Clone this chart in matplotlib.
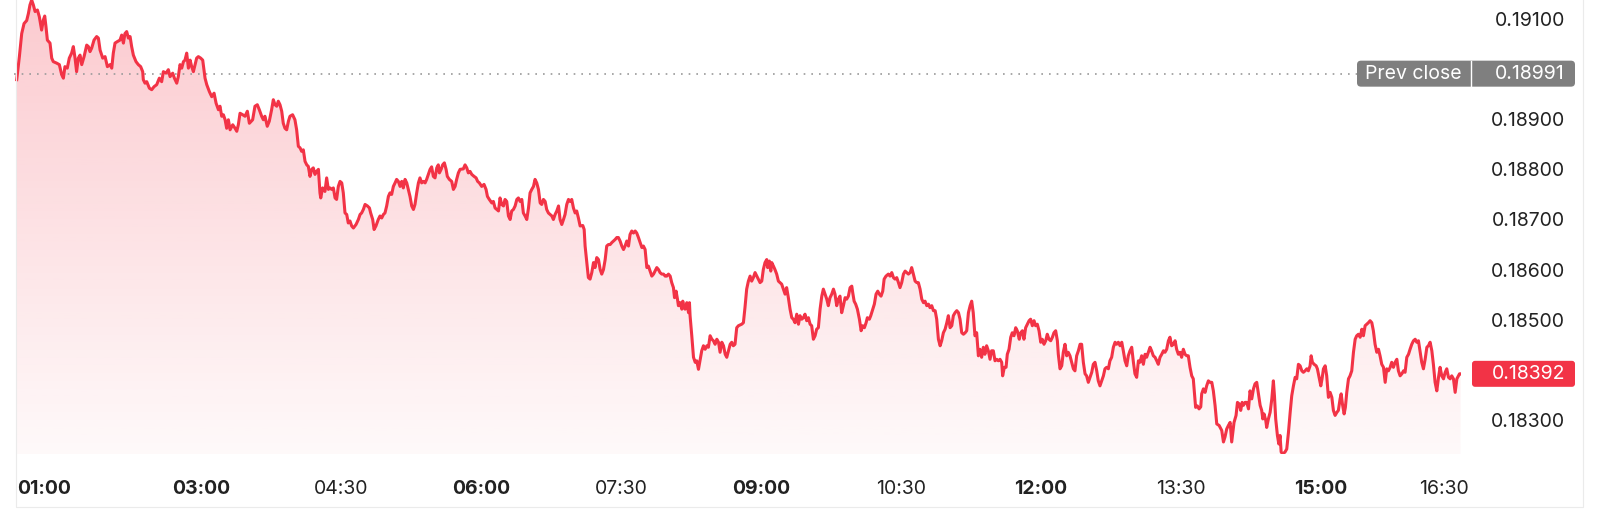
import numpy as np
import matplotlib.pyplot as plt
from matplotlib.colors import to_rgb
from matplotlib.patches import FancyBboxPatch, Rectangle
from matplotlib.transforms import IdentityTransform, ScaledTranslation

plt.rcParams['font.family'] = ['Inter', 'DejaVu Sans']

# time of each price point, minutes after midnight
minute_of_day = [
    61.5, 63.2, 64.7, 66.2, 67.9, 69.0, 70.0, 71.1, 72.2, 73.3,
    74.8, 76.0, 77.5, 78.6, 79.5, 80.3, 81.2, 82.9, 84.0, 85.0,
    87.2, 88.9, 90.4, 91.5, 92.5, 94.0, 95.3, 96.8, 97.9, 99.0,
    100.0, 101.1, 102.2, 103.3, 104.8, 106.5, 107.6, 108.6, 109.7, 111.2,
    112.9, 114.0, 115.1, 116.8, 118.3, 119.8, 121.5, 122.6, 123.6, 124.7,
    126.2, 127.9, 129.0, 130.1, 131.1, 132.2, 133.3, 134.4, 135.4, 136.5,
    138.2, 139.7, 141.2, 142.5, 142.9, 144.0, 145.1, 146.8, 148.3, 149.8,
    151.5, 153.2, 154.7, 155.8, 157.5, 159.0, 160.1, 161.8, 162.9, 164.4,
    165.4, 166.5, 167.6, 168.7, 169.7, 170.8, 171.9, 173.0, 174.0, 175.1,
    176.2, 177.2, 178.3, 179.8, 181.1, 182.6, 183.7, 185.4, 186.9, 188.4,
    189.7, 191.2, 192.2, 193.3, 194.4, 195.5, 196.5, 197.6, 198.7, 200.4,
    201.9, 203.0, 204.0, 205.1, 206.8, 208.3, 209.8, 211.1,
    213.2, 214.7, 216.2, 217.5, 219.0, 220.1, 221.1, 222.6, 223.9, 225.4,
    226.5, 227.6, 228.7, 229.7, 230.8, 231.9, 232.9, 234.0, 235.1, 236.2,
    237.2, 238.9, 240.4, 241.5, 242.6, 243.7, 244.7, 245.8, 246.9, 248.0,
    249.0, 250.1, 251.2, 252.2, 253.3, 254.4, 255.5, 256.5, 257.0, 258.2,
    259.7, 260.8, 261.9, 263.0, 264.0, 265.1, 266.2, 267.2, 268.3, 269.4,
    270.5, 271.5, 272.6, 273.7, 274.7, 275.8, 276.9, 278.0, 279.7, 281.2,
    282.3, 283.3, 284.4, 285.5, 287.0, 288.3, 289.1, 290.4, 291.3, 292.5,
    294.0, 295.1, 296.2, 297.3, 298.3, 299.4, 300.5, 301.5, 302.6, 303.7,
    304.8, 305.8, 306.9, 308.0, 309.1, 310.1, 311.2, 312.3, 313.3, 314.4,
    315.5, 316.6, 317.6, 318.7, 319.8, 320.8, 321.9, 323.0, 324.1, 325.1,
    326.2, 327.3, 328.3, 329.4, 330.5, 331.6, 332.6, 333.3, 334.4, 335.4,
    336.5, 337.6, 338.4, 339.7, 341.2, 342.3, 343.4, 344.4, 345.5, 346.6,
    348.7, 349.8, 350.9, 351.9, 353.0, 354.1, 355.6, 356.9, 357.9, 359.0,
    360.5, 362.0, 363.3, 364.2, 365.4,
    367.0, 368.0, 369.1, 370.2, 371.3, 372.3, 373.4, 374.5, 375.5, 376.6,
    377.7, 378.8, 379.8, 380.9, 382.0, 383.1, 384.1, 385.2, 386.3, 387.3,
    388.4, 389.5, 390.6, 391.6, 392.7, 393.8, 394.8, 395.9, 397.0, 398.1,
    399.1, 400.2, 401.3, 402.3, 403.4, 404.5, 405.6, 406.6, 407.7, 408.8,
    409.9, 410.9, 412.0, 413.1, 414.1, 415.2, 416.3, 417.4, 418.4, 419.5,
    420.6, 421.6, 422.7, 423.8, 425.5, 426.4, 427.0, 428.1, 429.1, 430.2,
    431.3, 432.4, 433.4, 434.5, 435.6, 436.7, 437.7, 438.8, 439.9, 440.9,
    442.0, 443.1, 444.2, 445.2, 446.3, 447.4, 448.4, 449.5, 450.6, 451.7,
    452.7, 453.8, 454.9, 455.9, 457.0, 458.1, 459.2, 460.2, 461.3, 462.4,
    463.5, 464.5, 465.6, 466.7, 467.7, 468.8, 469.9, 471.0, 472.0, 473.1,
    474.2, 475.2, 476.3, 477.4, 478.5, 479.5, 480.6, 481.7, 482.7, 483.8,
    484.5, 485.5, 486.4, 487.0, 488.1, 489.2, 489.8, 490.7, 491.3, 492.4,
    493.5, 494.1, 494.5, 495.6, 496.7, 497.8, 498.8, 499.9, 501.0, 502.0,
    503.1, 504.2, 505.3, 506.3, 507.4, 508.5, 509.5, 510.6, 511.7, 512.8,
    513.8, 514.9, 516.0, 517.1, 518.1, 519.2, 520.3,
    521.3, 522.3, 523.4, 524.5, 525.6, 527.7, 528.8, 529.8, 530.9, 532.0,
    533.1, 534.1, 535.2, 536.3, 537.4, 538.4, 539.5, 540.6, 541.6, 542.7,
    543.8, 544.4, 545.5, 546.4, 547.0, 548.1, 549.1, 550.2, 551.3, 552.4,
    553.4, 554.5, 555.6, 556.6, 557.7, 558.8, 559.9, 560.9, 562.0, 563.1,
    564.2, 565.2, 566.3, 567.4, 568.4, 569.5, 570.6, 571.7, 572.7, 573.8,
    574.9, 575.9, 577.0, 578.1, 579.2, 580.2, 581.3, 582.4, 583.4, 584.5,
    585.6, 586.7, 587.7, 588.8, 589.9, 590.9, 592.0, 593.1, 594.2, 595.2,
    596.3, 597.4, 598.5, 599.1, 600.0, 601.0, 602.1, 603.4, 604.5, 605.5,
    606.6, 607.7, 608.5, 609.8, 610.7, 612.0, 613.0, 614.1, 615.2, 616.2,
    617.3, 618.4, 619.3, 620.5, 622.0, 623.1, 624.2, 625.3, 626.3, 627.4,
    628.5, 629.5, 630.6, 631.7, 632.8, 633.8, 634.9, 636.0, 637.0, 638.1,
    639.2, 640.3, 641.3, 642.4, 643.5, 644.6, 645.6, 646.7, 647.8, 648.8,
    649.9, 651.0, 652.1, 653.1, 654.2, 655.3, 656.3, 657.4, 658.5, 659.6,
    660.6, 661.7, 662.8, 663.8, 664.9, 666.0, 667.1, 668.1, 669.2, 670.3,
    671.4, 672.4, 673.5, 674.6,
    675.6, 676.6, 677.7, 678.8, 679.9, 680.9, 682.0, 683.1, 684.1, 685.2,
    686.3, 687.4, 688.4, 689.5, 690.6, 691.7, 692.7, 693.8, 694.9, 695.5,
    696.6, 697.7, 698.5, 699.6, 700.7, 701.7, 702.8, 703.9, 704.9, 706.2,
    707.1, 708.2, 709.2, 710.3, 711.4, 712.5, 713.5, 714.6, 715.7, 716.7,
    717.8, 718.9, 720.0, 721.0, 722.1, 723.2, 724.2, 725.3, 726.4, 727.5,
    728.5, 729.6, 730.7, 731.3, 732.4, 733.5, 734.5, 735.6, 736.7, 737.7,
    738.8, 739.9, 741.0, 742.0, 743.1, 744.2, 745.3, 746.3, 747.4, 748.5,
    749.5, 750.6, 751.7, 752.8, 753.8, 754.9, 756.0, 757.0, 758.1, 759.2,
    760.3, 761.3, 762.4, 763.5, 764.5, 765.6, 766.7, 767.8, 768.8, 769.9,
    771.0, 772.1, 773.1, 774.2, 775.3, 776.3, 777.4, 778.5, 779.6, 780.6,
    781.7, 782.8, 783.8, 784.9, 786.0, 787.1, 788.1, 789.2, 790.3, 791.3,
    792.4, 793.5, 794.6, 795.6, 796.7, 797.8, 798.9, 799.9, 801.0, 802.1,
    803.1, 804.2, 805.3, 806.4, 807.4, 808.5, 809.6, 810.6, 811.7, 812.8,
    813.9, 814.9, 816.0, 817.1, 818.1, 818.8, 819.6, 820.7, 821.8, 822.9,
    823.5, 824.6, 825.7, 826.7, 827.8, 828.9,
    830.0, 831.0, 832.1, 833.2, 834.7, 836.4, 837.5, 838.5, 839.6, 840.7,
    841.8, 842.8, 843.5, 844.3, 845.6, 846.5, 847.6, 848.6, 849.5, 850.3,
    851.4, 852.5, 853.6, 854.6, 855.7, 856.8, 857.8, 858.9, 860.0, 861.1,
    862.1, 862.8, 863.6, 864.7, 865.3, 866.4, 867.5, 868.6, 869.6, 870.3,
    871.1, 872.2, 873.1, 873.9, 874.6, 875.6, 877.1, 878.2, 879.3, 880.4,
    881.4, 882.5, 883.6, 884.6, 885.7, 886.8, 887.9, 888.9, 890.0, 891.1,
    892.1, 893.2, 893.9, 894.7, 895.8, 897.1, 897.9, 899.0, 900.1, 900.9,
    901.8, 902.9, 903.9, 905.0, 906.1, 907.2, 908.2, 909.3, 910.4, 911.4,
    912.5, 913.2, 914.0, 915.1, 915.9, 916.8, 917.9, 918.9, 920.0, 921.1,
    922.2, 923.2, 924.3, 925.4, 926.5, 927.5, 928.6, 929.7, 930.7, 931.8,
    932.9, 933.9, 935.0, 936.1, 937.2, 938.2, 939.3, 940.4, 941.5, 942.5,
    943.6, 944.7, 945.7, 946.8, 947.9, 949.0, 950.0, 951.1, 952.2, 953.3,
    954.3, 955.4, 956.5, 957.5, 958.6, 959.7, 960.8, 961.8, 962.9, 964.0,
    965.0, 966.1, 967.2, 968.3, 969.3, 970.4, 971.5, 972.5, 973.6, 974.7,
    975.8, 976.8, 977.9, 979.0, 980.1, 981.1, 982.2, 983.3, 984.3, 985.4,
    986.5, 987.6, 988.6, 989.3, 990.0,
]

# price in units of 0.00001
price_e5 = [
    18979, 19025, 19071, 19091, 19097, 19111, 19128, 19138, 19128, 19115,
    19118, 19105, 19078, 19098, 19106, 19085, 19058, 19052, 19022, 19015,
    19012, 19009, 18989, 18982, 19005, 19002, 19022, 19032, 19045, 19022,
    18995, 19022, 19028, 19009, 19025, 19048, 19045, 19035, 19042, 19058,
    19065, 19062, 19038, 19022, 19025, 19005, 19009, 19002, 19032, 19052,
    19055, 19058, 19068, 19052, 19071, 19075, 19062, 19065, 19045, 19028,
    19015, 19009, 19005, 18995, 18979, 18972, 18975, 18962, 18959, 18965,
    18969, 18982, 18975, 18995, 18992, 18999, 18985, 18992, 18982, 18972,
    18985, 19009, 19002, 19015, 19018, 19032, 19002, 19018, 19005, 18995,
    19009, 19022, 19025, 19022, 19018, 18982, 18969, 18955, 18945, 18952,
    18932, 18919, 18926, 18906, 18909, 18899, 18882, 18899, 18879, 18889,
    18882, 18876, 18889, 18912, 18909, 18906, 18916, 18892,
    18899, 18926, 18929, 18919, 18906, 18899, 18906, 18886, 18896, 18919,
    18939, 18929, 18926, 18936, 18929, 18916, 18892, 18882, 18879, 18896,
    18906, 18909, 18899, 18879, 18846, 18843, 18836, 18839, 18816, 18809,
    18806, 18786, 18800, 18803, 18790, 18796, 18800, 18753, 18743, 18763,
    18756, 18783, 18760, 18763, 18760, 18763, 18743, 18740, 18766, 18776,
    18773, 18753, 18713, 18710, 18693, 18697, 18687, 18683, 18690, 18700,
    18710, 18713, 18720, 18730, 18727, 18723, 18713, 18700, 18680, 18687,
    18700, 18707, 18703, 18710, 18713, 18727, 18746, 18753, 18750, 18766,
    18773, 18780, 18776, 18766, 18776, 18763, 18780, 18773, 18760, 18746,
    18727, 18720, 18730, 18753, 18773, 18783, 18773, 18776, 18773, 18780,
    18790, 18800, 18805, 18786, 18783, 18803, 18809, 18793, 18800, 18809,
    18813, 18800, 18786, 18780, 18776, 18760, 18766, 18780, 18793, 18800,
    18801, 18809, 18803, 18793, 18796, 18790, 18786, 18783, 18776, 18773,
    18766, 18770, 18760, 18746, 18740,
    18733, 18736, 18723, 18720, 18717, 18743, 18730, 18727, 18740, 18736,
    18707, 18700, 18717, 18720, 18727, 18740, 18743, 18736, 18740, 18713,
    18707, 18700, 18723, 18753, 18760, 18766, 18780, 18773, 18760, 18733,
    18730, 18740, 18736, 18720, 18713, 18710, 18707, 18700, 18710, 18717,
    18727, 18700, 18690, 18700, 18710, 18730, 18740, 18736, 18740, 18723,
    18713, 18717, 18703, 18687, 18688, 18680, 18647, 18614, 18584, 18581,
    18594, 18614, 18604, 18624, 18620, 18600, 18591, 18600, 18620, 18647,
    18650, 18650, 18654, 18657, 18660, 18664, 18664, 18657, 18647, 18640,
    18647, 18657, 18647, 18670, 18677, 18673, 18677, 18673, 18664, 18654,
    18644, 18647, 18640, 18604, 18607, 18597, 18587, 18591, 18597, 18604,
    18600, 18594, 18591, 18591, 18587, 18587, 18591, 18587, 18574, 18564,
    18544, 18557, 18541, 18528, 18534, 18521, 18537, 18524, 18521, 18534,
    18514, 18534, 18508, 18468, 18425, 18415, 18418, 18401, 18421, 18438,
    18448, 18441, 18448, 18445, 18468, 18461, 18458, 18451, 18461, 18455,
    18435, 18455, 18448, 18431, 18425, 18438, 18451,
    18455, 18448, 18451, 18484, 18488, 18491, 18494, 18524, 18561, 18577,
    18587, 18577, 18584, 18594, 18587, 18581, 18574, 18577, 18600, 18614,
    18620, 18604, 18617, 18597, 18614, 18607, 18600, 18591, 18577, 18574,
    18571, 18561, 18551, 18564, 18544, 18521, 18504, 18501, 18494, 18511,
    18491, 18508, 18501, 18504, 18511, 18498, 18504, 18491, 18488, 18461,
    18468, 18481, 18484, 18521, 18547, 18561, 18551, 18541, 18528, 18544,
    18551, 18561, 18551, 18528, 18541, 18547, 18514, 18528, 18544, 18541,
    18547, 18564, 18567, 18554, 18537, 18531, 18521, 18501, 18478, 18488,
    18484, 18494, 18504, 18501, 18508, 18521, 18531, 18551, 18557, 18551,
    18547, 18557, 18581, 18587, 18591, 18587, 18594, 18584, 18581, 18584,
    18574, 18564, 18574, 18591, 18597, 18594, 18591, 18594, 18604, 18591,
    18577, 18574, 18574, 18561, 18541, 18534, 18537, 18528, 18531, 18524,
    18528, 18518, 18518, 18501, 18461, 18448, 18458, 18474, 18481, 18494,
    18508, 18484, 18488, 18508, 18514, 18518, 18514, 18501, 18474, 18471,
    18474, 18478, 18514, 18528,
    18537, 18514, 18468, 18474, 18428, 18441, 18425, 18445, 18431, 18448,
    18438, 18421, 18438, 18438, 18418, 18421, 18418, 18421, 18415, 18388,
    18405, 18405, 18431, 18441, 18465, 18474, 18468, 18484, 18478, 18461,
    18474, 18478, 18461, 18484, 18491, 18498, 18501, 18488, 18498, 18488,
    18491, 18478, 18455, 18461, 18451, 18458, 18471, 18461, 18458, 18465,
    18474, 18478, 18458, 18431, 18402, 18408, 18435, 18451, 18428, 18435,
    18428, 18415, 18402, 18398, 18428, 18438, 18451, 18451, 18415, 18392,
    18388, 18375, 18385, 18395, 18411, 18415, 18398, 18378, 18368, 18378,
    18388, 18402, 18405, 18402, 18418, 18425, 18445, 18455, 18451, 18455,
    18448, 18455, 18438, 18418, 18408, 18428, 18438, 18445, 18415, 18392,
    18385, 18418, 18415, 18428, 18411, 18431, 18425, 18435, 18445, 18438,
    18428, 18425, 18418, 18411, 18425, 18431, 18438, 18435, 18441, 18458,
    18465, 18448, 18451, 18458, 18441, 18431, 18435, 18425, 18441, 18431,
    18428, 18428, 18405, 18388, 18382, 18355, 18325, 18328, 18322, 18326,
    18352, 18362, 18355, 18368, 18378, 18375,
    18375, 18358, 18329, 18292, 18289, 18279, 18256, 18266, 18282, 18289,
    18295, 18256, 18275, 18295, 18309, 18335, 18332, 18319, 18335, 18329,
    18335, 18335, 18322, 18358, 18342, 18362, 18372, 18375, 18352, 18329,
    18319, 18302, 18312, 18299, 18285, 18302, 18315, 18342, 18378, 18348,
    18302, 18269, 18252, 18269, 18236, 18232, 18236, 18242, 18275, 18315,
    18348, 18368, 18385, 18382, 18411, 18408, 18398, 18395, 18398, 18402,
    18398, 18408, 18428, 18415, 18411, 18408, 18402, 18385, 18368, 18382,
    18402, 18408, 18388, 18345, 18355, 18345, 18319, 18309, 18315, 18319,
    18342, 18352, 18332, 18312, 18325, 18355, 18382, 18388, 18398, 18435,
    18461, 18468, 18471, 18465, 18481, 18468, 18488, 18491, 18494, 18498,
    18494, 18478, 18451, 18435, 18441, 18428, 18411, 18405, 18375, 18402,
    18398, 18405, 18415, 18405, 18415, 18421, 18398, 18388, 18392, 18398,
    18395, 18425, 18431, 18441, 18451, 18458, 18461, 18455, 18458, 18435,
    18415, 18402, 18421, 18445, 18448, 18455, 18438, 18411, 18375, 18358,
    18385, 18405, 18388, 18382, 18395, 18402, 18385, 18382, 18388, 18382,
    18355, 18382, 18388, 18392, 18392,
]

prev_close = 0.18991
last_price = 0.18392

y_ticks = [0.18300, 0.18500, 0.18600, 0.18700, 0.18800, 0.18900, 0.19100]
x_ticks = [60, 180, 270, 360, 450, 540, 630, 720, 810, 900, 990]
x_labels = ['01:00', '03:00', '04:30', '06:00', '07:30', '09:00',
            '10:30', '12:00', '13:30', '15:00', '16:30']
bold_labels = ['01:00', '03:00', '06:00', '09:00', '12:00', '15:00']

t = np.array(minute_of_day)
price = np.array(price_e5) / 1e5

W, H = 1600, 522
red = '#f23346'
text_col = '#222222'

fig = plt.figure(figsize=(W / 100, H / 100), dpi=100)
ax_l, ax_r, ax_b, ax_t = 14.4, 1460.6, 68, 522
ax = fig.add_axes([ax_l / W, ax_b / H, (ax_r - ax_l) / W, (ax_t - ax_b) / H])

# gradient area under the line
grad = np.zeros((256, 1, 4))
grad[..., :3] = to_rgb(red)
grad[:, 0, 3] = np.linspace(0.26, 0.03, 256)
area = ax.fill_between(t, price, price.min(), color='none', lw=0)
img = ax.imshow(grad, extent=[0, 1, 0, 1], transform=ax.transAxes,
                aspect='auto', origin='upper', zorder=1)
img.set_clip_path(area.get_paths()[0], transform=ax.transData)

ax.plot(t, price, color=red, lw=2.2, zorder=3, solid_joinstyle='round')

ax.set_xlim(60, 990)
ax.set_ylim(price.min(), price.max())

# previous close dotted line, stops at the label box
box_x0 = 1357
ax.axhline(prev_close, xmin=0, xmax=(box_x0 - ax_l) / (ax_r - ax_l),
           color='#9a9a9a', lw=1.2, ls=(0, (1, 3.6)), zorder=2)

for s in ax.spines.values():
    s.set_visible(False)

ax.yaxis.tick_right()
ax.set_yticks(y_ticks, [f'{v:.5f}' for v in y_ticks])
ax.tick_params(axis='y', length=0, pad=(1565 - ax_r) * 0.72,
               labelsize=14, labelcolor=text_col)
for lbl in ax.get_yticklabels():
    lbl.set_horizontalalignment('right')

ax.set_xticks(x_ticks, x_labels)
ax.tick_params(axis='x', length=0, pad=19, labelsize=14, labelcolor=text_col)
xl = ax.get_xticklabels()
for lbl in xl:
    if lbl.get_text() in bold_labels:
        lbl.set_fontweight('bold')
xl[0].set_horizontalalignment('left')
xl[0].set_transform(xl[0].get_transform() + ScaledTranslation(2.6 / 100, 0, fig.dpi_scale_trans))
xl[-1].set_horizontalalignment('right')
xl[-1].set_transform(xl[-1].get_transform() + ScaledTranslation(8 / 100, 0, fig.dpi_scale_trans))

# value boxes on the right, drawn in pixel space
px = IdentityTransform()
y_prev = ax.transData.transform((0, prev_close))[1]
y_last = ax.transData.transform((0, last_price))[1]

fig.add_artist(FancyBboxPatch((box_x0, y_prev - 13), 1575 - box_x0, 26,
                              boxstyle='round,pad=0,rounding_size=4',
                              transform=px, fc='#7f7f7f', ec='none'))
fig.add_artist(plt.Line2D([1471, 1471], [y_prev - 13, y_prev + 13],
                          transform=px, color='white', lw=1))
fig.text(1413.5 / W, y_prev / H, 'Prev close', ha='center', va='center',
         color='white', fontsize=14)
fig.text(1565 / W, y_prev / H, f'{prev_close:.5f}', ha='right', va='center',
         color='white', fontsize=14)

fig.add_artist(FancyBboxPatch((1472, y_last - 13), 103, 26,
                              boxstyle='round,pad=0,rounding_size=3',
                              transform=px, fc=red, ec='none'))
fig.text(1565 / W, y_last / H, f'{last_price:.5f}', ha='right', va='center',
         color='white', fontsize=14)

# faint frame around the widget
fig.add_artist(Rectangle((16, 15), 1567, 600, transform=px, fill=False,
                         ec='#ebebeb', lw=0.8))

fig.savefig('out.png', dpi=100)
